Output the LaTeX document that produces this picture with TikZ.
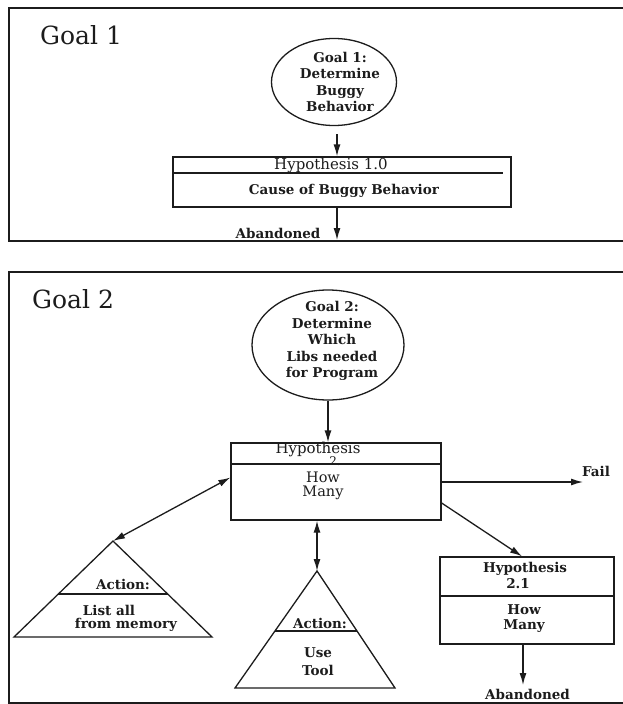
\documentclass[tikz,border=0pt]{standalone}
\usepackage{fontspec}
\setmainfont{DejaVu Serif}
\usetikzlibrary{arrows.meta,shapes.geometric}
\definecolor{ink}{HTML}{1C1C1C}
\begin{document}
\begin{tikzpicture}[x=1pt,y=-1pt,
  ln/.style={line width=1.3pt, draw=ink},
  frame/.style={line width=1.8pt, draw=ink},
  arr/.style={ln,-{Latex[length=12pt,width=7pt]}},
  darr/.style={ln,{Latex[length=12pt,width=7pt]}-{Latex[length=12pt,width=7pt]}},
  goalell/.style={ellipse, draw=ink, line width=1.3pt, inner sep=0pt},
  hbox/.style={rectangle, draw=ink, line width=1.3pt, inner sep=0pt},
  txt/.style={inner sep=0pt, font=\fontsize{13.5}{16.5}\selectfont\bfseries, align=center, text=ink},
  rtxt/.style={inner sep=0pt, font=\fontsize{15}{16}\selectfont, align=center, text=ink},
  head/.style={inner sep=0pt, font=\fontsize{25}{28}\selectfont, anchor=base west, text=ink}
]
\useasboundingbox (0,0) rectangle (623,704);
% frames
\draw[frame] (623,8) -- (9,8) -- (9,241) -- (623,241);
\draw[frame] (623,272) -- (9,272) -- (9,703) -- (623,703);

% ---------- Goal 1 ----------
\node[head] (g1) at (40,44) {Goal 1};
\node[goalell, minimum width=125, minimum height=87] (e1) at (334,82) {};
\node[txt] (e1t) at (340,82) {Goal 1:\\Determine\\Buggy\\Behavior};
\node[hbox, minimum width=338, minimum height=50] (h1) at (342,182) {};
\draw[ln] (173,173) -- (503,173);
\node[rtxt] (h1a) at (331,165) {Hypothesis 1.0};
\node[txt] (h1b) at (344,191) {Cause of Buggy Behavior};
\draw[arr] ([shift={(3,8)}]e1.south) -- ([shift={(-5,0)}]h1.north);
\coordinate (ab1) at (337,240);
\draw[arr] ([shift={(-5,0)}]h1.south) -- (ab1);
\node[txt] (ab1t) at (278,233) {Abandoned};

% ---------- Goal 2 ----------
\node[head] (g2) at (32,308) {Goal 2};
\node[goalell, minimum width=152, minimum height=110] (e2) at (328,345) {};
\node[txt] (e2t) at (332,341) {Goal 2:\\Determine\\Which\\Libs needed\\for Program};
\node[hbox, minimum width=210, minimum height=77] (h2) at (336,481.5) {};
\draw[ln] (231,464) -- (441,464);
\node[rtxt] (h2a) at (318,449) {Hypothesis};
\node[rtxt, font=\fontsize{12}{13}\selectfont] (h2b) at (335,461) {2.};
\node[rtxt, font=\fontsize{14.5}{14.5}\selectfont] (h2c) at (323,486) {How\\Many};
\draw[arr] (e2.south) -- (e2.south |- h2.north);

% Fail
\coordinate (fail) at (583,482);
\draw[arr] (h2.east |- fail) -- (fail);
\node[txt] (failt) at (596,471) {Fail};

% left triangle
\coordinate (t1) at (113,541);
\draw[ln] (t1) -- (212,637) -- (14,637) -- cycle;
\draw[ln] (58.3,594) -- (167.7,594);
\node[txt] (t1a) at (123,584) {Action:};
\node[txt] (t1b) at (109,610) {List all};
\node[txt] (t1c) at (126,625) {from memory};
\draw[darr] ([shift={(0,-4)}]h2.west) -- (t1);

% middle triangle
\coordinate (t2) at (317,571);
\draw[ln] (t2) -- (395,688) -- (235,688) -- cycle;
\draw[ln] (275,631) -- (357,631);
\node[txt] (t2a) at (320,623) {Action:};
\node[txt] (t2b) at (318,653) {Use};
\node[txt] (t2c) at (318,670) {Tool};
\draw[darr] ([shift={(-19,0)}]h2.south) -- (t2);

% Hypothesis 2.1
\node[hbox, minimum width=174, minimum height=87] (h21) at (527,600.5) {};
\draw[ln] (440,596) -- (614,596);
\node[txt] (h21a) at (525,569) {Hypothesis};
\node[txt] (h21b) at (518,584) {2.1};
\node[txt, font=\fontsize{13.5}{15}\selectfont\bfseries] (h21c) at (524,619) {How\\Many};
\draw[arr] ([shift={(0,21.5)}]h2.east) -- ([shift={(-5,0)}]h21.north);
\coordinate (ab2) at (523,685);
\draw[arr] ([shift={(-4,0)}]h21.south) -- (ab2);
\node[txt] (ab2t) at (527.5,694) {Abandoned};
\end{tikzpicture}
\end{document}
